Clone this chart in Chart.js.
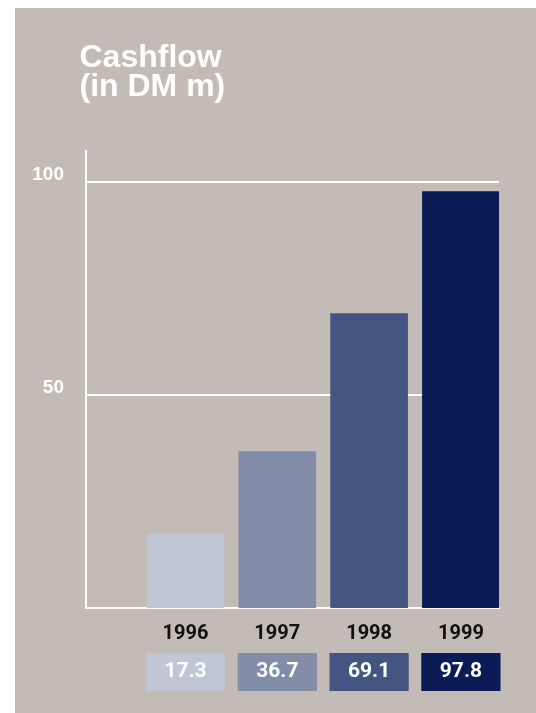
<!DOCTYPE html>
<html>
<head>
<meta charset="utf-8">
<script src="https://cdn.jsdelivr.net/npm/chart.js@4/dist/chart.umd.min.js"></script>
<style>
    html, body { margin: 0; padding: 0; background: #fff; }
    #panel { position: absolute; left: 15px; top: 8px; width: 521px; height: 705px; background: #c3bbb5; }
    #title { position: absolute; left: 64.5px; top: 34px; margin: 0; color: #fff;
             font: bold 32px/29px "Liberation Sans", Arial, sans-serif; }
    #chart-wrap { position: absolute; left: 0; top: 0; width: 521px; height: 705px; }
</style>
</head>
<body>
<div id="panel">
    <div id="chart-wrap"><canvas id="cashflowChart"></canvas></div>
    <h1 id="title">Cashflow<br>(in DM m)</h1>
</div>
<script>
// Chart data
const years = [1996, 1997, 1998, 1999];
const cashflow = [17.3, 36.7, 69.1, 97.8];
const yTicks = [50, 100];

const barColors = ['#c0c6d4', '#838ca9', '#445582', '#0a1b55'];

// x range picked so the year slots land where the printed bars sit
const X_MIN = 1994.916;
const X_MAX = 1999.415;

const yearTicks = scale => { scale.ticks = years.map(v => ({ value: v })); };

new Chart(document.getElementById('cashflowChart'), {
    type: 'bar',
    data: {
        datasets: [{
            data: years.map((yr, i) => ({ x: yr, y: cashflow[i] })),
            backgroundColor: barColors,
            barThickness: 77,
            borderWidth: 0,
            xAxisID: 'x',
            yAxisID: 'y'
        }]
    },
    options: {
        responsive: true,
        maintainAspectRatio: false,
        animation: false,
        layout: { padding: { top: 143, right: 37, bottom: 15, left: 0 } },
        plugins: {
            legend: { display: false },
            tooltip: { enabled: false }
        },
        scales: {
            x: {
                type: 'linear',
                position: 'bottom',
                weight: 0,
                min: X_MIN,
                max: X_MAX,
                offset: false,
                grid: { display: false, drawTicks: false },
                border: { color: '#fff', width: 2 },
                afterBuildTicks: yearTicks,
                afterFit: s => { s.height = 40; },
                ticks: {
                    padding: 14,
                    autoSkip: false,
                    maxRotation: 0,
                    color: '#111',
                    font: { family: 'Roboto', size: 20, weight: 'bold' },
                    callback: v => String(v)
                }
            },
            x2: {
                type: 'linear',
                position: 'bottom',
                weight: 1,
                min: X_MIN,
                max: X_MAX,
                offset: false,
                grid: { display: false, drawTicks: false },
                border: { display: false },
                afterBuildTicks: yearTicks,
                afterFit: s => { s.height = 50; },
                ticks: {
                    padding: 11.4,
                    autoSkip: false,
                    maxRotation: 0,
                    color: '#fff',
                    font: { family: 'Roboto', size: 21, weight: 'bold' },
                    callback: (v, i) => cashflow[i].toFixed(1),
                    showLabelBackdrop: true,
                    backdropColor: c => barColors[c.index],
                    backdropPadding: { top: 6.4, bottom: 6.4, left: 18.5, right: 18.5 }
                }
            },
            y: {
                position: 'left',
                min: 0,
                max: 107.3,
                grid: { color: '#fff', lineWidth: 2, drawTicks: false },
                border: { color: '#fff', width: 2 },
                afterBuildTicks: s => { s.ticks = yTicks.map(v => ({ value: v })); },
                afterFit: s => { s.width = 71; },
                ticks: {
                    padding: 22,
                    labelOffset: -7,
                    color: '#fff',
                    font: { family: 'Liberation Sans', size: 19, weight: 'bold' }
                }
            }
        }
    }
});
</script>
</body>
</html>
